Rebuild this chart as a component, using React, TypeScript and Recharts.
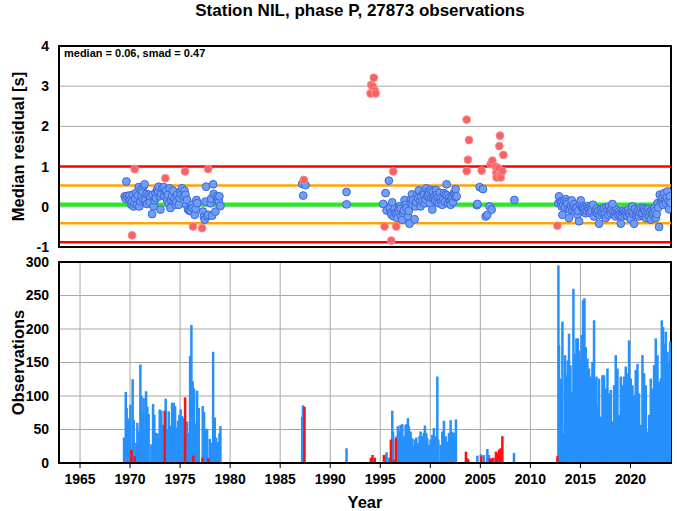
import React from "react";
import {
  ComposedChart,
  Scatter,
  Bar,
  XAxis,
  YAxis,
  CartesianGrid,
  ReferenceLine,
  ReferenceArea,
  Label,
} from "recharts";

// residual medians, good points (blue)
const goodYears = [
  1969.46, 1969.55, 1969.63, 1969.7, 1969.86, 1969.95, 1970.03, 1970.13, 1970.18, 1970.26, 1970.36, 1970.45, 1970.53, 1970.6,
  1970.7, 1970.78, 1970.86, 1970.93, 1971.03, 1971.08, 1971.13, 1971.26, 1971.3, 1971.36, 1971.46, 1971.53, 1971.65, 1971.7,
  1971.86, 1971.95, 1972.03, 1972.2, 1972.25, 1972.36, 1972.46, 1972.53, 1972.58, 1972.7, 1972.8, 1972.86, 1972.96, 1973.03,
  1973.1, 1973.2, 1973.36, 1973.42, 1973.53, 1973.62, 1973.7, 1973.78, 1973.86, 1973.96, 1974.03, 1974.1, 1974.2, 1974.28,
  1974.36, 1974.45, 1974.53, 1974.62, 1974.7, 1974.86, 1974.95, 1975.03, 1975.12, 1975.2, 1975.36, 1975.45, 1975.53, 1975.62,
  1975.7, 1975.8, 1975.93, 1976.05, 1976.13, 1976.2, 1976.26, 1976.46, 1976.55, 1976.63, 1976.7, 1977.3, 1977.38, 1977.46,
  1977.53, 1977.6, 1977.7, 1977.8, 1978.03, 1978.1, 1978.2, 1978.3, 1978.36, 1978.53, 1978.63, 1978.7, 1978.8, 1978.88,
  1978.93, 1979.03,
  1987.2, 1987.3, 1987.53, 1991.63, 1991.63,
  1995.3, 1995.53, 1995.63, 1995.86, 1995.96, 1996.05, 1996.13, 1996.2, 1996.36, 1996.45, 1996.53, 1996.62, 1996.7, 1996.8,
  1996.88, 1996.96, 1997.05, 1997.1, 1997.2, 1997.28, 1997.36, 1997.43, 1997.55, 1997.63, 1997.76, 1997.85, 1997.93, 1998.03,
  1998.1, 1998.16, 1998.22, 1998.3, 1998.43, 1998.53, 1998.6, 1998.7, 1998.78, 1998.86, 1998.95, 1999.03, 1999.1, 1999.2,
  1999.3, 1999.38, 1999.43, 1999.52, 1999.6, 1999.7, 1999.78, 1999.83, 1999.9, 1999.96, 2000.03, 2000.1, 2000.2, 2000.25,
  2000.3, 2000.43, 2000.5, 2000.56, 2000.62, 2000.7, 2000.78, 2000.86, 2000.95, 2001.03, 2001.1, 2001.2, 2001.28, 2001.36,
  2001.46, 2001.55, 2001.63, 2001.7, 2001.76, 2001.86, 2001.95, 2002.03, 2002.1, 2002.2, 2002.28, 2002.36, 2002.45, 2002.53,
  2002.53, 2002.63,
  2004.66, 2004.7, 2004.93, 2005.26, 2005.53, 2005.7, 2005.93, 2006.13, 2008.4,
  2012.8, 2012.86, 2013.03, 2013.1, 2013.13, 2013.2, 2013.28, 2013.36, 2013.45, 2013.53, 2013.62, 2013.7, 2013.78, 2013.86,
  2013.93, 2014.05, 2014.13, 2014.2, 2014.26, 2014.38, 2014.46, 2014.52, 2014.6, 2014.7, 2014.78, 2014.86, 2014.95, 2015.03,
  2015.13, 2015.2, 2015.26, 2015.36, 2015.45, 2015.53, 2015.62, 2015.7, 2015.78, 2015.86, 2015.95, 2016.03, 2016.1, 2016.13,
  2016.26, 2016.36, 2016.45, 2016.53, 2016.62, 2016.7, 2016.78, 2016.86, 2016.93, 2017.03, 2017.1, 2017.2, 2017.28, 2017.36,
  2017.45, 2017.53, 2017.62, 2017.7, 2017.78, 2017.86, 2017.95, 2018.03, 2018.1, 2018.2, 2018.28, 2018.36, 2018.45, 2018.53,
  2018.62, 2018.7, 2018.78, 2018.86, 2018.95, 2019.03, 2019.12, 2019.2, 2019.28, 2019.36, 2019.45, 2019.53, 2019.62, 2019.7,
  2019.78, 2019.86, 2019.95, 2020.03, 2020.12, 2020.2, 2020.28, 2020.36, 2020.45, 2020.53, 2020.62, 2020.7, 2020.78, 2020.86,
  2020.95, 2021.03, 2021.12, 2021.2, 2021.28, 2021.36, 2021.45, 2021.53, 2021.62, 2021.7, 2021.78, 2021.86, 2021.95, 2022.03,
  2022.12, 2022.2, 2022.28, 2022.36, 2022.45, 2022.53, 2022.62, 2022.7, 2022.78, 2022.86, 2022.93, 2023.05, 2023.13, 2023.2,
  2023.26, 2023.36, 2023.45, 2023.53, 2023.62, 2023.7, 2023.8, 2023.86, 2023.93, 2024.0,
];
const goodMedians = [
  0.26, 0.2, 0.63, 0.27, 0.22, 0.28, 0.17, 0.05, 0.12, 0.3, 0.01, 0.08, 0.22, 0.34,
  0.05, 0.28, 0.49, 0.01, 0.13, 0.42, 0.26, 0.38, 0.18, 0.52, 0.56, 0.17, 0.32, 0.07,
  0.3, 0.12, 0.26, -0.18, 0.3, 0.01, 0.16, 0.34, 0.22, 0.42, 0.36, 0.5, 0.26, -0.07,
  0.32, 0.46, 0.49, 0.28, 0.38, 0.4, 0.17, 0.3, 0.09, 0.46, -0.03, 0.16, 0.26, 0.4,
  0.13, 0.2, 0.05, 0.12, 0.3, 0.05, 0.22, 0.38, 0.3, 0.46, 0.26, 0.4, 0.3, 0.05,
  0.17, -0.07, -0.1, -0.1, 0.01, 0.05, -0.03, -0.2, -0.05, 0.17, 0.09, -0.12, -0.25, -0.32,
  0.13, 0.5, -0.24, -0.2, 0.09, 0.2, -0.22, 0.56, 0.32, -0.12, 0.26, 0.15, 0.22, 0.12,
  0.26, 0.02,
  0.57, 0.28, 0.54, 0.37, 0.06,
  0.07, 0.34, -0.09, 0.65, -0.03, -0.15, -0.2, 0.11, -0.24, -0.05, -0.16, -0.2, -0.28, -0.07,
  -0.12, 0.01, -0.05, -0.24, -0.32, -0.15, -0.09, 0.17, 0.05, -0.03, -0.24, -0.1, -0.42, 0.09,
  0.2, 0.31, 0.05, 0.17, -0.31, 0.01, 0.12, 0.3, 0.22, 0.41, 0.15, 0.01, 0.25, 0.13,
  0.34, 0.3, 0.09, 0.18, 0.46, 0.26, 0.3, 0.38, 0.35, 0.09, 0.42, 0.22, -0.07, 0.38,
  0.22, 0.26, 0.15, 0.42, 0.3, 0.13, 0.25, 0.09, 0.35, 0.22, 0.12, 0.05, 0.2, 0.34,
  0.13, 0.3, 0.56, 0.28, 0.09, 0.22, 0.15, 0.05, 0.2, 0.26, 0.12, 0.34, 0.3, 0.44,
  0.24, 0.26,
  0.04, 0.07, 0.49, 0.44, -0.24, -0.2, 0.01, -0.07, 0.17,
  0.09, 0.26, 0.13, 0.1, 0.01, -0.2, 0.05, 0.16, -0.02, 0.19, 0.12, 0.07, -0.05, -0.28,
  -0.07, 0.03, 0.16, -0.08, 0.02, 0.06, -0.12, -0.02, -0.03, -0.2, -0.1, -0.36, 0.05, 0.16,
  0.01, -0.03, -0.06, -0.12, -0.05, -0.16, -0.1, 0.02, -0.03, -0.07, -0.15, 0.02, -0.05, -0.12,
  0.05, -0.24, -0.12, -0.09, -0.05, -0.16, -0.1, -0.42, -0.2, -0.07, -0.15, -0.12, -0.05, -0.03,
  -0.18, -0.28, -0.02, -0.09, -0.2, 0.01, -0.1, -0.16, -0.05, 0.07, -0.12, -0.2, -0.15, -0.24,
  -0.08, -0.16, -0.2, -0.12, -0.18, -0.42, -0.15, -0.24, -0.1, -0.16, -0.2, -0.12, -0.18, -0.24,
  -0.08, -0.16, -0.22, -0.31, -0.12, 0.01, -0.18, -0.42, -0.05, -0.2, -0.15, -0.12, -0.08, -0.24,
  -0.14, -0.03, -0.2, -0.16, -0.03, -0.07, -0.12, -0.28, -0.18, -0.12, -0.05, -0.24, -0.12, -0.32,
  -0.08, -0.2, -0.15, -0.03, -0.1, -0.28, -0.18, 0.09, -0.02, -0.5, 0.3, 0.12, 0.17, 0.22,
  0.05, 0.34, 0.18, 0.09, 0.24, 0.38, 0.14, -0.06, 0.26, 0.1,
];

// outlier medians (red)
const badYears = [
  1970.2, 1970.46, 1973.53, 1975.5, 1976.3, 1977.2, 1977.8, 1987.36,
  1994.03, 1994.1, 1994.26, 1994.36, 1994.46, 1994.53, 1995.43, 1996.1, 1996.3, 1996.6,
  2003.63, 2003.63, 2003.76, 2003.86, 2005.13, 2006.03, 2006.2, 2006.53, 2006.6, 2006.63, 2006.8,
  2006.9, 2006.93, 2006.96, 2007.03, 2007.2, 2007.3, 2012.7,
];
const badMedians = [
  -0.71, 0.94, 0.71, 0.88, -0.49, -0.53, 0.94, 0.67,
  2.82, 3.03, 2.99, 3.21, 2.89, 2.82, -0.49, -0.84, 0.88, -0.49,
  2.17, 0.89, 1.17, 1.66, 0.9, 1.06, 1.15, 1.0, 0.85, 0.73, 0.96,
  1.51, 0.77, 1.77, 0.73, 0.89, 1.29, -0.47,
];

// observation counts
const goodBarYears = [
  1969.4, 1969.57, 1969.66, 1969.76, 1969.86, 1970.03, 1970.26, 1970.36, 1970.6, 1970.73, 1970.9, 1971.03, 1971.13, 1971.23,
  1971.36, 1971.46, 1971.6, 1971.73, 1971.86, 1972.13, 1972.3, 1972.43, 1972.6, 1972.76, 1972.96, 1973.13, 1973.3, 1973.56,
  1973.73, 1973.86, 1974.0, 1974.2, 1974.36, 1974.5, 1974.66, 1974.8, 1974.93, 1975.06, 1975.2, 1975.36, 1975.7, 1975.86,
  1976.0, 1976.13, 1976.26, 1976.4, 1976.53, 1976.7, 1976.86, 1977.26, 1977.4, 1977.53, 1977.7, 1977.96, 1978.1, 1978.3,
  1978.46, 1978.6, 1978.76, 1978.93, 1979.03,
  1987.2, 1987.28, 1991.63,
  1995.56, 1995.63, 1995.9, 1996.2, 1996.28, 1996.63, 1996.76, 1996.9, 1997.03, 1997.2, 1997.36, 1997.53, 1997.63, 1997.76,
  1997.86, 1998.03, 1998.2, 1998.36, 1998.46, 1998.6, 1998.76, 1998.93, 1999.03, 1999.2, 1999.36, 1999.46, 1999.6, 1999.7,
  1999.86, 2000.03, 2000.2, 2000.36, 2000.53, 2000.7, 2000.8, 2001.03, 2001.2, 2001.36, 2001.53, 2001.7, 2001.86, 2002.03,
  2002.2, 2002.36, 2002.56,
  2004.7, 2005.06, 2005.36, 2005.7, 2005.86, 2008.36,
  2012.8, 2012.86, 2013.0, 2013.13, 2013.2, 2013.36, 2013.46, 2013.6, 2013.73, 2013.86, 2014.0, 2014.13, 2014.3, 2014.46,
  2014.6, 2014.73, 2014.86, 2015.03, 2015.13, 2015.26, 2015.4, 2015.53, 2015.7, 2015.86, 2016.03, 2016.2, 2016.36, 2016.46,
  2016.6, 2016.73, 2016.86, 2017.03, 2017.2, 2017.36, 2017.53, 2017.7, 2017.86, 2018.03, 2018.2, 2018.36, 2018.53, 2018.7,
  2018.86, 2019.03, 2019.2, 2019.36, 2019.53, 2019.7, 2019.86, 2020.03, 2020.2, 2020.36, 2020.53, 2020.7, 2020.86, 2021.03,
  2021.2, 2021.36, 2021.53, 2021.7, 2021.86, 2022.03, 2022.2, 2022.36, 2022.53, 2022.7, 2022.86, 2023.03, 2023.13, 2023.26,
  2023.4, 2023.53, 2023.7, 2023.86, 2023.96,
];
const goodBarCounts = [
  38, 106, 82, 67, 63, 87, 125, 64, 30, 60, 47, 147, 100, 75,
  97, 52, 107, 84, 73, 28, 88, 72, 45, 44, 80, 78, 57, 96,
  50, 77, 56, 90, 90, 85, 53, 63, 72, 80, 70, 67, 62, 45,
  160, 206, 122, 111, 59, 108, 82, 85, 76, 51, 51, 36, 30, 166,
  68, 38, 31, 44, 55,
  69, 86, 22,
  12, 16, 8, 78, 47, 40, 55, 47, 57, 58, 40, 57, 58, 67,
  55, 47, 37, 25, 35, 38, 30, 40, 47, 40, 45, 56, 45, 37,
  27, 35, 42, 52, 40, 129, 35, 27, 47, 63, 40, 32, 45, 64,
  47, 45, 65,
  11, 13, 12, 21, 12, 15,
  295, 176, 126, 119, 211, 44, 161, 131, 153, 193, 146, 106, 260, 163,
  186, 186, 168, 156, 191, 243, 246, 173, 156, 141, 129, 151, 213, 124,
  129, 86, 126, 69, 131, 131, 111, 141, 104, 109, 62, 116, 161, 141,
  72, 129, 116, 129, 144, 134, 183, 126, 116, 101, 139, 148, 104, 57,
  161, 134, 116, 47, 72, 126, 111, 146, 186, 161, 121, 126, 213, 203,
  178, 196, 166, 151, 181,
];
const badBarYears = [
  1970.13, 1970.46, 1973.46, 1975.5, 1976.33, 1977.23, 1977.83, 1987.43,
  1994.06, 1994.23, 1994.46, 1995.36, 1996.06, 1996.36, 1996.56,
  2003.56, 2003.7, 2003.8, 2005.1, 2005.96, 2006.13, 2006.3, 2006.56, 2006.7, 2006.86, 2007.03, 2007.2, 2012.7,
];
const badBarCounts = [
  20, 10, 78, 98, 11, 8, 7, 84,
  8, 12, 8, 12, 35, 5, 37,
  17, 7, 5, 10, 7, 7, 8, 17, 15, 20, 22, 40, 10,
];

const yearTicks = [1965, 1970, 1975, 1980, 1985, 1990, 1995, 2000, 2005, 2010, 2015, 2020];
const residualTicks = [-1, 0, 1, 2, 3, 4];
const countTicks = [0, 50, 100, 150, 200, 250, 300];

const median = 0.06;
const smad = 0.47;

const goodPoints = goodYears.map((x, i) => ({ x, y: goodMedians[i] }));
const badPoints = badYears.map((x, i) => ({ x, y: badMedians[i] }));
const barRows = [
  ...goodBarYears.map((x, i) => ({ x, good: goodBarCounts[i] })),
  ...badBarYears.map((x, i) => ({ x, bad: badBarCounts[i] })),
].sort((a, b) => a.x - b.x);

const FONT = "'Liberation Sans', Arial, Helvetica, sans-serif";
const X_DOMAIN: [number, number] = [1962.9, 2024.05];
const tickStyle = { fill: "#000", fontSize: 14, fontWeight: "bold", fontFamily: FONT };
const labelStyle = { fill: "#000", fontSize: 16.5, fontWeight: "bold", fontFamily: FONT };
const BAR_W = 2.5;

const dot = (fill: string, stroke: string) => (p: any) => (
  <circle cx={p.cx} cy={p.cy} r={3.9} fill={fill} stroke={stroke} strokeWidth={1} />
);

// bands on a number axis are tiny, so draw each bar a fixed width around its centre
const thinBar = (fill: string) => (p: any) => {
  if (!p.height || p.height <= 0) return <g />;
  return <rect x={p.x + p.width / 2 - BAR_W / 2} y={p.y} width={BAR_W} height={p.height} fill={fill} />;
};

export default function App() {
  return (
    <div style={{ position: "absolute", left: 0, top: 0, width: 677, height: 511, background: "#fff", fontFamily: FONT }}>
      <div style={{ position: "absolute", left: 0, width: 720, top: 1, textAlign: "center", fontSize: 17, fontWeight: "bold" }}>
        Station NIL, phase P, 27873 observations
      </div>

      <div style={{ position: "absolute", left: 0, top: 0 }}>
        <ComposedChart width={677} height={260} margin={{ top: 46, right: 6, bottom: 0, left: 0 }}>
          <CartesianGrid stroke="#a8a8a8" strokeWidth={1} />
          <XAxis
            type="number"
            dataKey="x"
            domain={X_DOMAIN}
            ticks={yearTicks}
            allowDataOverflow
            height={13}
            tick={false}
            tickSize={6}
            tickLine={{ stroke: "#000" }}
            axisLine={{ stroke: "#000", strokeWidth: 2 }}
          />
          <YAxis
            type="number"
            dataKey="y"
            domain={[-1, 4]}
            ticks={residualTicks}
            allowDataOverflow
            width={59}
            tickLine={false}
            tickSize={0}
            tickMargin={10}
            tick={tickStyle}
            axisLine={{ stroke: "#000", strokeWidth: 2 }}
          >
            <Label value="Median residual [s]" angle={-90} position="center" dx={-11} style={labelStyle} />
          </YAxis>
          <ReferenceArea x1={X_DOMAIN[0]} x2={X_DOMAIN[1]} y1={-1} y2={4} fill="none" stroke="#000" strokeWidth={2} />
          <ReferenceLine y={median + 2 * smad} stroke="#ff0000" strokeWidth={2.5} />
          <ReferenceLine y={median - 2 * smad} stroke="#ff0000" strokeWidth={2.5} />
          <ReferenceLine y={median + smad} stroke="#ffa500" strokeWidth={2.5} />
          <ReferenceLine y={median - smad} stroke="#ffa500" strokeWidth={2.5} />
          <ReferenceLine y={median} stroke="#22ee22" strokeWidth={4} />
          <Scatter data={goodPoints} shape={dot("#6f9ef5", "#3d66dd")} isAnimationActive={false} />
          <Scatter data={badPoints} shape={dot("#f46464", "#ff8a8a")} isAnimationActive={false} />
        </ComposedChart>
      </div>

      <div style={{ position: "absolute", left: 64, top: 47, fontSize: 11, fontWeight: "bold" }}>
        median = {median.toFixed(2)}, smad = {smad.toFixed(2)}
      </div>

      <div style={{ position: "absolute", left: 0, top: 250 }}>
        <ComposedChart width={677} height={261} data={barRows} margin={{ top: 12, right: 6, bottom: 0, left: 0 }}>
          <CartesianGrid stroke="#a8a8a8" strokeWidth={1} />
          <XAxis
            type="number"
            dataKey="x"
            domain={X_DOMAIN}
            ticks={yearTicks}
            allowDataOverflow
            height={48}
            tickSize={5}
            tickMargin={6}
            tick={tickStyle}
            tickLine={{ stroke: "#000" }}
            axisLine={{ stroke: "#000", strokeWidth: 2 }}
          >
            <Label value="Year" position="insideBottom" offset={3} style={labelStyle} />
          </XAxis>
          <YAxis
            type="number"
            domain={[0, 300]}
            ticks={countTicks}
            allowDataOverflow
            width={59}
            tickLine={false}
            tickSize={0}
            tickMargin={10}
            tick={tickStyle}
            axisLine={{ stroke: "#000", strokeWidth: 2 }}
          >
            <Label value="Observations" angle={-90} position="center" dx={-11} style={labelStyle} />
          </YAxis>
          <ReferenceArea x1={X_DOMAIN[0]} x2={X_DOMAIN[1]} y1={0} y2={300} fill="none" stroke="#000" strokeWidth={2} />
          <Bar dataKey="good" stackId="n" shape={thinBar("#2690fb")} isAnimationActive={false} />
          <Bar dataKey="bad" stackId="n" shape={thinBar("#ff1010")} isAnimationActive={false} />
        </ComposedChart>
      </div>
    </div>
  );
}
